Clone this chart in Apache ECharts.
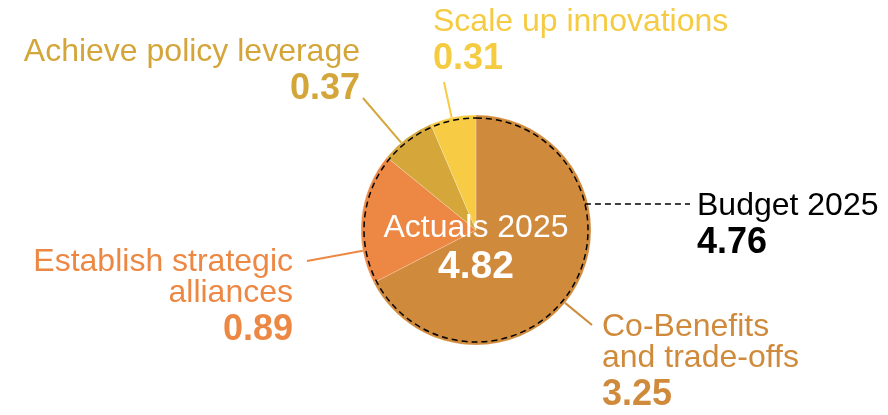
<!DOCTYPE html>
<html>
<head>
<meta charset="utf-8">
<script src="https://cdn.jsdelivr.net/npm/echarts@6/dist/echarts.min.js"></script>
<style>
  html, body { margin: 0; padding: 0; background: #fff; }
  #main { width: 888px; height: 415px; }
</style>
</head>
<body>
<div id="main"></div>
<script>
// data
var categories = ['Co-Benefits\nand trade-offs', 'Establish strategic\nalliances', 'Achieve policy leverage', 'Scale up innovations'];
var actuals = [3.25, 0.89, 0.37, 0.31];
var actualsName = 'Actuals 2025';
var budgetName = 'Budget 2025';
var budget = 4.76;

// styling
var colors = ['#D08A3C', '#EC8843', '#D5A73B', '#F7CB44'];
var textColors = ['#D08A3C', '#EC8843', '#D4A63A', '#F5CB42'];
var font = '"Liberation Sans", Arial, Helvetica, sans-serif';
var center = [476, 230];
var radius = 115;
var budgetRadius = 112;

// where each label sits and where its leader line ends
var labelSpots = [
  { x: 602, y: 312, align: 'left', end: [592, 325] },
  { x: 293, y: 247, align: 'right', end: [307, 261] },
  { x: 360, y: 37, align: 'right', end: [363, 98] },
  { x: 433, y: 7, align: 'left', end: [444, 82] }
];
var budgetSpot = { x: 697, y: 191, end: [690, 204] };

function fmt(v) { return v.toFixed(2); }

function richFor(color, align) {
  return {
    n: { fontFamily: font, fontSize: 32, lineHeight: 31, color: color, align: align },
    v: { fontFamily: font, fontSize: 36, lineHeight: 42, fontWeight: 'bold', color: color, align: align }
  };
}

function labelText(name, value) {
  var lines = name.split('\n').map(function (l) { return '{n|' + l + '}'; });
  lines.push('{v|' + fmt(value) + '}');
  return lines.join('\n');
}

var total = actuals.reduce(function (a, b) { return a + b; }, 0);

var pieData = categories.map(function (c, i) {
  return {
    name: c,
    value: actuals[i],
    itemStyle: { color: colors[i] },
    label: {
      formatter: labelText(c, actuals[i]),
      rich: richFor(textColors[i], labelSpots[i].align)
    },
    labelLine: { lineStyle: { color: colors[i], width: 2 } }
  };
});

var myChart = echarts.init(document.getElementById('main'), null, { renderer: 'canvas' });

var option = {
  animation: false,
  backgroundColor: '#fff',
  series: [
    {
      type: 'pie',
      center: center,
      radius: radius,
      startAngle: 90,
      avoidLabelOverlap: false,
      silent: true,
      itemStyle: { borderColor: 'rgba(255,255,255,0.35)', borderWidth: 0.6 },
      label: { show: true, position: 'outside' },
      labelLine: { show: true, length: 10, length2: 10 },
      labelLayout: function (p) {
        var s = labelSpots[p.dataIndex];
        var dx = s.end[0] - center[0], dy = s.end[1] - center[1];
        var d = Math.sqrt(dx * dx + dy * dy);
        var start = [center[0] + radius * dx / d, center[1] + radius * dy / d];
        return {
          x: s.x, y: s.y, align: s.align, verticalAlign: 'top',
          labelLinePoints: [start, s.end, s.end]
        };
      },
      data: pieData
    },
    {
      type: 'pie',
      center: center,
      radius: budgetRadius,
      silent: true,
      z: 3,
      itemStyle: { color: 'rgba(0,0,0,0)', borderColor: '#000', borderWidth: 1.5, borderType: [6, 4] },
      label: {
        show: true, position: 'outside',
        formatter: labelText(budgetName, budget),
        rich: richFor('#000', 'left')
      },
      labelLine: { show: true, lineStyle: { color: '#000', width: 1.3, type: [6, 4] } },
      labelLayout: function () {
        var yy = budgetSpot.end[1] - center[1];
        var xx = Math.sqrt(budgetRadius * budgetRadius - yy * yy);
        var start = [center[0] + xx, budgetSpot.end[1]];
        return {
          x: budgetSpot.x, y: budgetSpot.y, align: 'left', verticalAlign: 'top',
          labelLinePoints: [start, budgetSpot.end, budgetSpot.end]
        };
      },
      data: [{ name: budgetName, value: budget }]
    }
  ],
  graphic: [
    {
      type: 'text',
      x: center[0],
      y: center[1] + 19,
      z: 10,
      style: {
        text: '{a|' + actualsName + '}\n{b|' + fmt(total) + '}',
        align: 'center',
        verticalAlign: 'middle',
        fill: '#fff',
        rich: {
          a: { fontFamily: font, fontSize: 32, lineHeight: 36, fill: '#fff', align: 'center' },
          b: { fontFamily: font, fontSize: 39, lineHeight: 42, fontWeight: 'bold', fill: '#fff', align: 'center' }
        }
      }
    }
  ]
};

myChart.setOption(option);
</script>
</body>
</html>
